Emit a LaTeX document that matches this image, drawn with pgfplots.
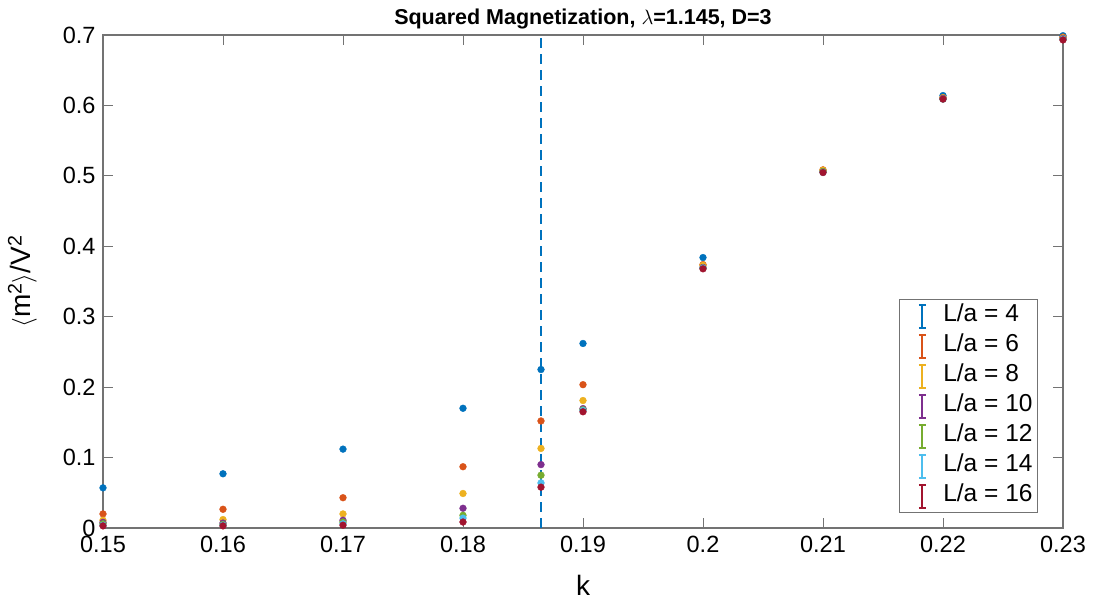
\documentclass[border=0pt]{standalone}
\usepackage{pgfplots}
\pgfplotsset{compat=1.18}
\usepackage{fontspec}
\setmainfont{Liberation Sans}

\definecolor{c1}{rgb}{0,0.447,0.741}
\definecolor{c2}{rgb}{0.850,0.325,0.098}
\definecolor{c3}{rgb}{0.929,0.694,0.125}
\definecolor{c4}{rgb}{0.494,0.184,0.556}
\definecolor{c5}{rgb}{0.466,0.674,0.188}
\definecolor{c6}{rgb}{0.301,0.745,0.933}
\definecolor{c7}{rgb}{0.635,0.078,0.184}
\definecolor{axgray}{gray}{0.45}

% legend glyph: an error bar with caps
\pgfplotsset{
  errbar legend/.style={
    legend image code/.code={
      \path[draw=none,fill=none] (0pt,-12pt) rectangle (39pt,12pt);
      \draw[##1,mark=none,solid,line width=1.8pt]
        (20pt,-11.5pt) -- (20pt,11.5pt)
        (16.5pt,-11.5pt) -- (23.5pt,-11.5pt)
        (16.5pt,11.5pt) -- (23.5pt,11.5pt);
    }
  },
  dots/.style={only marks, mark=*, mark size=3.4pt, mark options={draw=#1,fill=#1}, color=#1, errbar legend}
}

\begin{document}
\begin{tikzpicture}
\begin{axis}[
  name=ax,
  scale only axis,
  width=960pt, height=493pt,
  xmin=0.15, xmax=0.23, ymin=0, ymax=0.7,
  xtick={0.15,0.16,0.17,0.18,0.19,0.2,0.21,0.22,0.23},
  ytick={0,0.1,0.2,0.3,0.4,0.5,0.6,0.7},
  /pgf/number format/assume math mode=true,
  /pgf/number format/fixed,
  /pgf/number format/precision=2,
  ticklabel style={font=\fontsize{23.5}{27}\selectfont, text=black},
  xticklabel style={yshift=-5pt},
  yticklabel style={xshift=-4pt},
  tick align=inside,
  major tick length=10pt,
  tick style={axgray, line width=1pt},
  axis line style={axgray, line width=1.2pt},
  xlabel={k},
  ylabel={$\langle$m\textsuperscript{2}$\rangle$/V\textsuperscript{2}},
  label style={font=\fontsize{28}{32}\selectfont},
  xlabel style={yshift=-15pt},
  ylabel style={yshift=19pt},
  title={\bfseries Squared Magnetization, $\lambda$=1.145, D=3},
  title style={font=\fontsize{21.5}{25}\selectfont, yshift=-4pt},
  legend style={
    at={(0.974,0.03)}, anchor=south east,
    draw=axgray, line width=1pt, fill=white,
    font=\fontsize{24.5}{28}\selectfont,
    row sep=3pt, inner xsep=3pt, inner ysep=3pt,
    nodes={inner sep=2pt, text height=17pt, text depth=6pt},
  },
  legend cell align=left,
]
% critical coupling
\addplot[c1, dash pattern=on 10pt off 6pt, line width=2.2pt, forget plot]
  coordinates {(0.1865,0) (0.1865,0.7)};

\addplot[dots=c1] coordinates {
  (0.15,0.057) (0.16,0.077) (0.17,0.112) (0.18,0.170) (0.1865,0.225)
  (0.19,0.262) (0.2,0.384) (0.22,0.614) (0.23,0.699)};
\addlegendentry{L/a = 4}
\addplot[dots=c2] coordinates {
  (0.15,0.020) (0.16,0.0266) (0.17,0.043) (0.18,0.087) (0.1865,0.152)
  (0.19,0.2035) (0.2,0.374) (0.21,0.5085) (0.22,0.611) (0.23,0.697)};
\addlegendentry{L/a = 6}
\addplot[dots=c3] coordinates {
  (0.15,0.011) (0.16,0.012) (0.17,0.020) (0.18,0.049) (0.1865,0.113)
  (0.19,0.181) (0.2,0.373) (0.21,0.508) (0.22,0.611) (0.23,0.696)};
\addlegendentry{L/a = 8}
\addplot[dots=c4] coordinates {
  (0.15,0.008) (0.16,0.007) (0.17,0.011) (0.18,0.028) (0.1865,0.090)
  (0.19,0.1695) (0.2,0.370) (0.21,0.506) (0.22,0.610) (0.23,0.695)};
\addlegendentry{L/a = 10}
\addplot[dots=c5] coordinates {
  (0.15,0.006) (0.16,0.005) (0.17,0.0085) (0.18,0.018) (0.1865,0.075)
  (0.19,0.168) (0.2,0.369) (0.21,0.506) (0.22,0.609) (0.23,0.694)};
\addlegendentry{L/a = 12}
\addplot[dots=c6] coordinates {
  (0.15,0.004) (0.16,0.004) (0.17,0.006) (0.18,0.014) (0.1865,0.064)
  (0.19,0.167) (0.2,0.369) (0.21,0.505) (0.22,0.609) (0.23,0.694)};
\addlegendentry{L/a = 14}
\addplot[dots=c7] coordinates {
  (0.15,0.003) (0.16,0.003) (0.17,0.004) (0.18,0.0085) (0.1865,0.058)
  (0.19,0.165) (0.2,0.368) (0.21,0.5047) (0.22,0.609) (0.23,0.693)};
\addlegendentry{L/a = 16}
\end{axis}
% page frame around the axis
\pgfresetboundingbox
\path (ax.south west) ++(-103pt,-79pt) coordinate (pbl);
\path (ax.north east) ++(37pt,35pt) coordinate (ptr);
\useasboundingbox (pbl) rectangle (ptr);
\end{tikzpicture}
\end{document}
